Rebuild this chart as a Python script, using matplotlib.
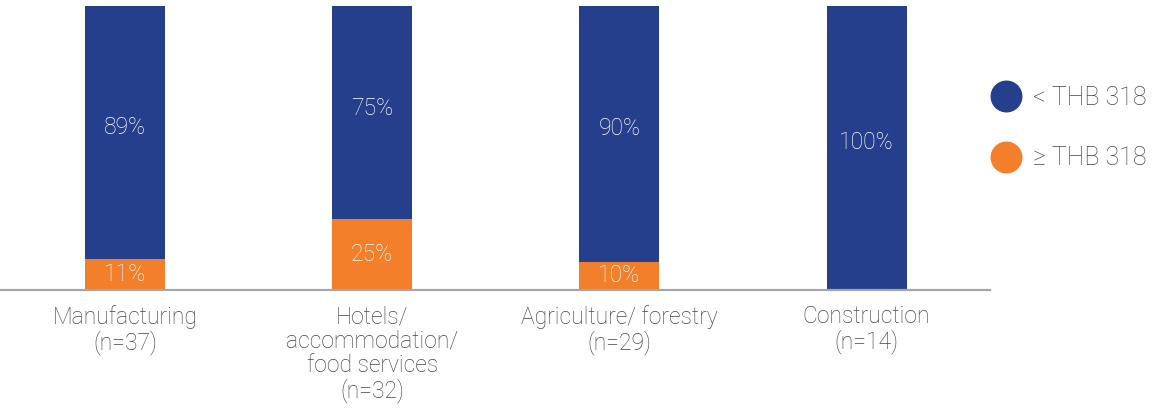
import matplotlib.pyplot as plt
from matplotlib.lines import Line2D

# share of workers by sector, split at the THB 318 threshold
sectors = ['Manufacturing\n(n=37)', 'Hotels/\naccommodation/\nfood services\n(n=32)',
           'Agriculture/ forestry\n(n=29)', 'Construction\n(n=14)']
below = [89, 75, 90, 100]
above = [11, 25, 10, 0]

blue = '#263F8C'
orange = '#F47F2A'
grey = '#444444'

plt.rcParams['font.family'] = ['Roboto', 'DejaVu Sans']
plt.rcParams['font.weight'] = 'light'

fig = plt.figure(figsize=(11.63, 4.11), dpi=100)
ax = fig.add_axes([0.0, 0.2944, 0.851, 0.691])

x = range(len(sectors))
w = 0.324
ax.bar(x, above, w, color=orange)
ax.bar(x, below, w, bottom=above, color=blue)

for i in x:
    if above[i] > 0:
        ax.text(i, above[i] / 2, f'{above[i]}%', ha='center', va='center',
                color='white', fontsize=16.5)
    ax.text(i, above[i] + below[i] * 0.52, f'{below[i]}%', ha='center', va='center',
            color='white', fontsize=16.5)

ax.set_xlim(-0.506, 3.498)
ax.set_ylim(0, 100)
ax.set_xticks(list(x))
ax.set_xticklabels(sectors, fontsize=16.5, color=grey, linespacing=1.08, va='top')
ax.tick_params(axis='x', length=0, pad=11)
ax.set_yticks([])
for s in ['top', 'right', 'left']:
    ax.spines[s].set_visible(False)
ax.spines['bottom'].set_color('#A6A6A6')
ax.spines['bottom'].set_linewidth(1.6)

handles = [Line2D([], [], ls='none', marker='o', ms=22, color=blue),
           Line2D([], [], ls='none', marker='o', ms=22, color=orange)]
fig.legend(handles, ['< THB 318', '\u2265 THB 318'], loc='upper left',
           bbox_to_anchor=(0.833, 0.845), frameon=False, fontsize=18,
           labelcolor=grey, labelspacing=1.45, handletextpad=0.45, handlelength=1.2)

fig.savefig('out.png', dpi=100)
